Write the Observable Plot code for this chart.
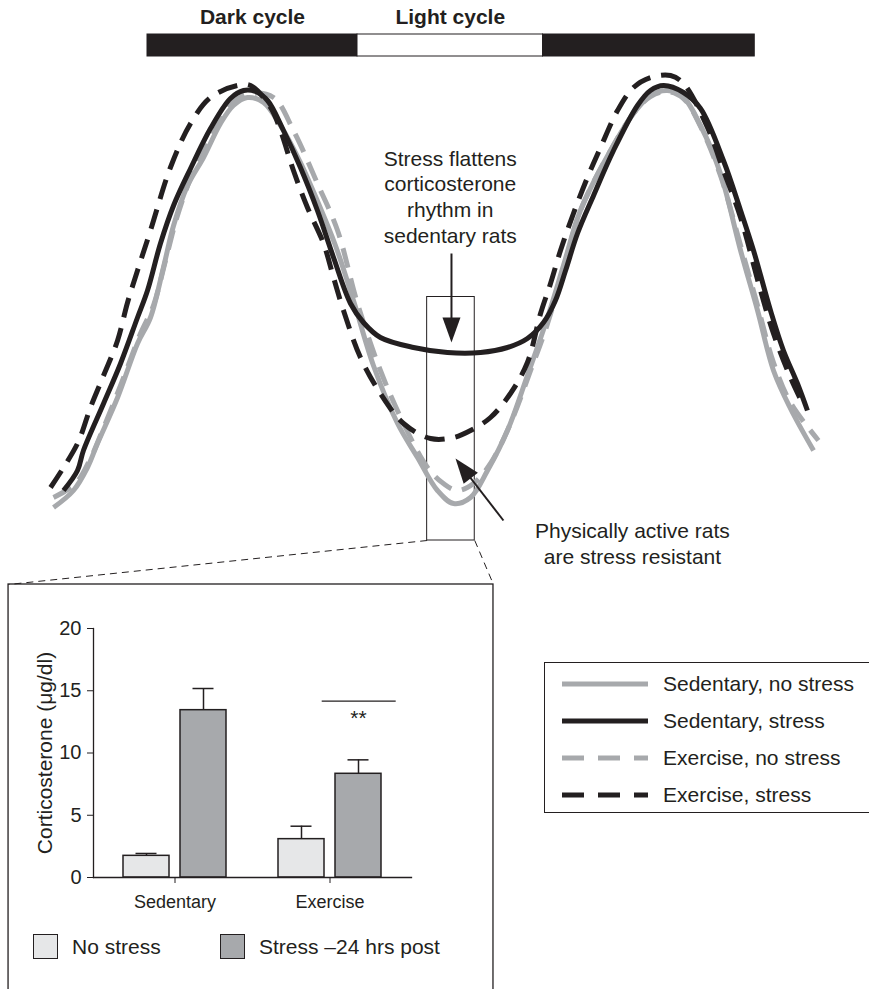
<!DOCTYPE html>
<html>
<head>
<meta charset="utf-8">
<script src="https://cdn.jsdelivr.net/npm/d3@7"></script>
<script src="https://cdn.jsdelivr.net/npm/@observablehq/plot@0.6"></script>
<style>
  html, body { margin: 0; padding: 0; background: #fff; }
  body { width: 869px; height: 989px; position: relative; overflow: hidden;
         font-family: "Liberation Sans", Arial, Helvetica, sans-serif; color: #231f20; }
  .abs { position: absolute; }
  .sw { position: absolute; width: 25px; height: 25px; box-sizing: border-box; border: 1.4px solid #231f20; }
  .lg { position: absolute; font-size: 21px; line-height: 24px; white-space: nowrap; }
</style>
</head>
<body>
<div id="top" class="abs" style="left:0;top:0;width:869px;height:989px"></div>
<div id="inset" class="abs" style="left:0;top:584px;width:494px;height:405px"></div>
<div id="insetLegend"></div>
<div id="lineLegend" class="abs" style="left:544px;top:662px;width:340px;height:151px;box-sizing:border-box;border:1.3px solid #231f20"></div>
<script>
// ---------------- colours / fonts ----------------
const BLACK = "#231f20", GRAY = "#a7a9ac", LIGHT = "#e6e7e8";
const FONT = '"Liberation Sans", Arial, Helvetica, sans-serif';

// ---------------- circadian curves: [hours from dark onset, relative corticosterone] ----------------
const sedNoStress = [
  [-5.37,6.6],[-4.23,10],[-3.43,14.6],[-2.86,19.4],[-1.71,28.6],[-0.57,39.4],[0.17,44.6],[0.91,54.6],
  [1.49,63],[2.29,71],[3.2,76.6],[4.17,83.4],[4.91,87],[5.71,88.6],[6.63,87.6],[7.6,83],[8.74,75.6],
  [9.77,67.4],[10.74,59],[11.77,48],[12.91,35],[14.29,23.4],[15.43,16.6],[16.57,10],[17.49,7.4],
  [18.46,8.6],[19.43,14],[20.57,22],[21.71,33],[22.86,44.6],[23.77,55],[24.74,66],[26.46,78],
  [27.77,85.4],[28.74,89],[29.71,90],[30.63,88.6],[31.6,83],[32.74,73.4],[33.89,58],[34.86,46],
  [35.77,34],[36.74,26.4],[38.06,18]
];
const exNoStress = [
  [-5.37,8.6],[-4.11,11.4],[-3.26,16.4],[-2.69,21],[-1.54,31],[-0.4,41.4],[0.34,47],[1.03,56],
  [1.66,64.4],[2.46,72.4],[3.31,78.4],[4.29,84.6],[5.03,88],[5.89,89.4],[7.2,88.6],[8.34,82],
  [9.71,71.4],[10.86,62],[12,47.4],[13.31,34],[14.63,23.4],[16,14.6],[16.91,11.4],[17.71,10],
  [18.63,11.4],[19.6,15.4],[20.74,23.4],[21.89,34],[22.86,43.4],[23.77,54.4],[24.74,66],[26.46,78],
  [27.77,85.4],[28.74,88.8],[29.71,89.8],[30.63,88.4],[31.6,82.8],[32.74,73],[33.89,59],[34.86,47],
  [35.77,35.6],[36.74,27.6],[38.34,20]
];
const sedStress = [
  [-4.8,10],[-4,14],[-3.66,18],[-2.51,27.4],[-1.54,35.4],[-0.57,44.6],[0,50],[0.74,59.4],[1.49,67],
  [2.46,74.4],[3.6,82.4],[4.74,88.4],[5.49,90],[6.17,89.8],[6.86,88],[7.77,82],[8.74,74.6],[9.71,66],
  [10.63,56.6],[11.6,47.4],[12.34,43.6],[13.31,40.6],[15.2,38.6],[17.14,37.6],[19.03,37.6],[20.57,38.6],
  [21.71,40.4],[22.63,43.6],[23.31,48],[23.89,54],[24.57,61.4],[25.49,69],[26.63,78],
  [28,87],[28.74,90],[29.49,91],[30.63,89.6],[31.6,86.4],[32.91,76],[33.89,66],[34.63,58],[35.6,46],
  [36.34,38],[37.14,31.4],[37.71,26]
];
const exStress = [
  [-5.54,10.6],[-4,19.4],[-3.26,26.6],[-2.51,33],[-1.71,40],[-1.14,47.6],[-0.57,54],[0.17,62],
  [1.31,74.6],[2.46,83.4],[3.6,88.6],[5.14,91],[5.89,91],[7.03,86.6],[7.6,82],[8.34,74],[9.14,66.6],
  [10.06,59.4],[10.63,52.6],[11.2,46],[12.17,36.6],[13.31,29.4],[14.63,23.4],[16.17,20.4],[17.49,20.6],
  [18.46,22],[19.6,24.6],[20.74,29.4],[21.71,35.6],[22.46,45.4],[23.03,51.4],[23.6,58],[24.34,65.4],
  [25.14,72.6],[25.89,78.6],[26.86,86],[27.77,90.6],[28.74,92.6],[29.89,93],[30.63,91.4],[32,82.6],
  [32.91,74],[33.89,64.6],[35.03,50],[35.77,41.4],[36.74,32.6],[37.49,27]
];
const seriesNames  = ["Sedentary, no stress", "Sedentary, stress", "Exercise, no stress", "Exercise, stress"];
const seriesColors = [GRAY, BLACK, GRAY, BLACK];
const seriesDashed = [false, false, true, true];

// light/dark cycle bar
const cyclePhases = ["Dark", "Light", "Dark"];
const cycleStarts = [0, 12, 22.6];
const cycleEnds   = [12, 22.6, 34.7];
const cycleLabels = ["Dark cycle", "Light cycle", ""];

// annotations (data units)
const annoFlatten = {t: 17.3, v: 68.9, text: "Stress flattens\ncorticosterone\nrhythm in\nsedentary rats"};
const annoResist  = {t: 27.71, v: -0.5, text: "Physically active rats\nare stress resistant"};
const arrowList   = [{t1: 17.37, v1: 57.4, t2: 17.37, v2: 39.6}, {t1: 20.34, v1: 4, t2: 17.6, v2: 16.4}];
const zoomWindow  = {t1: 15.98, t2: 18.7, v1: 0, v2: 48.7};
const insetFrame  = {t1: -7.94, t2: 19.77, v: -8.8};

// ---------------- inset bar chart ----------------
const groups = ["Sedentary", "Exercise"];
const conditions = ["No stress", "Stress \u201324 hrs post"];
const noStressMeans  = [1.74, 3.08];
const noStressErrors = [0.19, 1.04];
const stressMeans    = [13.44, 8.33];
const stressErrors   = [1.74, 1.12];
const yTicks = [0, 5, 10, 15, 20];
const sigGroup = "Exercise", sigLevel = 14.16, sigLabel = "**";

// ---------------- layout (pixels) ----------------
const W = 869, H = 989;
const PX_PER_H = 17.5, PX_PER_L = 5, ORIGIN_X = 147, ORIGIN_Y = 540;
const xDomain = [-ORIGIN_X / PX_PER_H, (W - ORIGIN_X) / PX_PER_H];
const yDomain = [(ORIGIN_Y - H) / PX_PER_L, ORIGIN_Y / PX_PER_L];

// ---------------- top panel ----------------
const curveSets = [sedNoStress, exNoStress, sedStress, exStress];
const curveOrder = [0, 2, 1, 3]; // index into seriesNames
const curveMarks = curveSets.map((arr, k) => {
  const s = curveOrder[k];
  return Plot.line(arr.map(([t, v]) => ({t, v, series: seriesNames[s]})), {
    x: "t", y: "v", stroke: seriesColors[s], strokeWidth: 5, curve: "catmull-rom",
    strokeDasharray: seriesDashed[s] ? "20,11" : null, strokeLinecap: "butt", strokeLinejoin: "round"
  });
});

const cycleRows = cyclePhases.map((p, i) => ({phase: p, start: cycleStarts[i], end: cycleEnds[i], label: cycleLabels[i]}));

function pxDelta(a) { return {dx: (a.t2 - a.t1) * PX_PER_H, dy: -(a.v2 - a.v1) * PX_PER_L}; }
function shaftEnd(a, back) {
  const {dx, dy} = pxDelta(a); const f = 1 - back / Math.hypot(dx, dy);
  return {...a, te: a.t1 + (a.t2 - a.t1) * f, ve: a.v1 + (a.v2 - a.v1) * f};
}
function headRotation(a) { const {dx, dy} = pxDelta(a); return Math.atan2(-dx, dy) * 180 / Math.PI; }
const arrowHead = {draw(ctx) { ctx.moveTo(0, 0); ctx.lineTo(-9, -25); ctx.lineTo(9, -25); ctx.closePath(); }};

const topPlot = Plot.plot({
  width: W, height: H, margin: 0,
  x: {domain: xDomain, axis: null},
  y: {domain: yDomain, axis: null},
  style: {fontFamily: FONT, background: "transparent", color: BLACK, overflow: "visible"},
  marks: [
    // light/dark bar
    Plot.rect(cycleRows, {x1: "start", x2: "end", y1: 96.8, y2: 101.2,
      fill: d => d.phase === "Dark" ? BLACK : "white", stroke: BLACK, strokeWidth: 1}),
    Plot.text(cycleRows.filter(d => d.label), {x: d => (d.start + d.end) / 2, y: 104.6, text: "label",
      fontSize: 21, fontWeight: "bold", fill: BLACK}),
    // zoom window, connectors, inset frame
    Plot.rect([zoomWindow], {x1: "t1", x2: "t2", y1: "v1", y2: "v2", fill: "none", stroke: BLACK, strokeWidth: 1}),
    Plot.link([
      {x1: zoomWindow.t1, y1: zoomWindow.v1, x2: insetFrame.t1, y2: insetFrame.v},
      {x1: zoomWindow.t2, y1: zoomWindow.v1, x2: insetFrame.t2, y2: insetFrame.v}
    ], {x1: "x1", y1: "y1", x2: "x2", y2: "y2", stroke: BLACK, strokeWidth: 1, strokeDasharray: "7,5"}),
    Plot.rect([insetFrame], {x1: "t1", x2: "t2", y1: "v", y2: d => d.v - 100, fill: "none", stroke: BLACK, strokeWidth: 1.3}),
    // curves
    ...curveMarks,
    // arrows
    Plot.link(arrowList.map(a => shaftEnd(a, 12)), {x1: "t1", y1: "v1", x2: "te", y2: "ve", stroke: BLACK, strokeWidth: 2}),
    Plot.dot(arrowList, {x: "t2", y: "v2", symbol: arrowHead, rotate: headRotation, fill: BLACK, stroke: "none"}),
    // annotation text
    Plot.text([annoFlatten, annoResist], {x: "t", y: "v", text: "text", fontSize: 21, lineHeight: 1.22,
      textAnchor: "middle", lineAnchor: "middle", fill: BLACK})
  ]
});
document.getElementById("top").append(topPlot);

// ---------------- inset plot ----------------
const BAR_W = 46, BAR_GAP = 11, CAP_HALF = 10.5;
const OFF = (BAR_W + BAR_GAP) / 2;
const noRows = groups.map((g, i) => ({group: g, mean: noStressMeans[i], err: noStressErrors[i]}));
const stRows = groups.map((g, i) => ({group: g, mean: stressMeans[i], err: stressErrors[i]}));
const sigRows = [{group: sigGroup, y: sigLevel, label: sigLabel}];
const BAND = 2 * BAR_W + BAR_GAP;
const capInsetNear = BAR_W / 2 - CAP_HALF, capInsetFar = BAND - BAR_W / 2 - CAP_HALF;

const insetPlot = Plot.plot({
  width: 494, height: 405,
  marginLeft: 93, marginRight: 83, marginTop: 44, marginBottom: 112,
  x: {domain: groups, paddingInner: 0.3376, paddingOuter: 0.191},
  y: {domain: [0, 20]},
  style: {fontFamily: FONT, background: "transparent", color: BLACK, overflow: "visible"},
  marks: [
    Plot.ruleX(noRows, {x: "group", dx: -OFF, y1: "mean", y2: d => d.mean + d.err, stroke: BLACK, strokeWidth: 1.5}),
    Plot.ruleX(stRows, {x: "group", dx: OFF, y1: "mean", y2: d => d.mean + d.err, stroke: BLACK, strokeWidth: 1.5}),
    Plot.tickY(noRows, {x: "group", y: d => d.mean + d.err, insetLeft: capInsetNear, insetRight: capInsetFar, stroke: BLACK, strokeWidth: 1.5}),
    Plot.tickY(stRows, {x: "group", y: d => d.mean + d.err, insetLeft: capInsetFar, insetRight: capInsetNear, stroke: BLACK, strokeWidth: 1.5}),
    Plot.barY(noRows, {x: "group", y: "mean", fill: LIGHT, stroke: BLACK, strokeWidth: 1.5, insetRight: BAR_W + BAR_GAP}),
    Plot.barY(stRows, {x: "group", y: "mean", fill: GRAY, stroke: BLACK, strokeWidth: 1.5, insetLeft: BAR_W + BAR_GAP}),
    Plot.tickY(sigRows, {x: "group", y: "y", insetLeft: 43.7, insetRight: -14.7, stroke: BLACK, strokeWidth: 1.3}),
    Plot.text(sigRows, {x: "group", y: "y", dx: OFF, dy: 17, text: "label", fontSize: 21, fill: BLACK}),
    Plot.frame({anchor: "left", stroke: BLACK, strokeWidth: 1.3}),
    Plot.frame({anchor: "bottom", stroke: BLACK, strokeWidth: 1.3}),
    Plot.axisY({ticks: yTicks, tickSize: 6, tickPadding: 6, fontSize: 20, label: null, stroke: BLACK, fill: BLACK}),
    Plot.axisX({tickSize: 6, tickPadding: 12, fontSize: 18, label: null, stroke: BLACK, fill: BLACK}),
    Plot.text(["Corticosterone (\u03bcg/dl)"], {frameAnchor: "left", dx: -48, rotate: -90, fontSize: 21,
      textAnchor: "middle", lineAnchor: "middle", fill: BLACK})
  ]
});
document.getElementById("inset").append(insetPlot);

// ---------------- inset legend (HTML) ----------------
const insetLegend = document.getElementById("insetLegend");
const swatchFills = [LIGHT, GRAY];
const swatchLeft = [33, 220];
conditions.forEach((c, i) => {
  const sw = document.createElement("div");
  sw.className = "sw"; sw.style.left = swatchLeft[i] + "px"; sw.style.top = "934px"; sw.style.background = swatchFills[i];
  const tx = document.createElement("div");
  tx.className = "lg"; tx.style.left = (swatchLeft[i] + 39) + "px"; tx.style.top = "935px"; tx.textContent = c;
  insetLegend.append(sw, tx);
});

// ---------------- line legend (HTML + inline svg swatches) ----------------
const lineLegend = document.getElementById("lineLegend");
const NS = "http://www.w3.org/2000/svg";
seriesNames.forEach((name, i) => {
  const cy = 21 + 37 * i;
  const svg = document.createElementNS(NS, "svg");
  svg.setAttribute("width", 90); svg.setAttribute("height", 10);
  svg.style.position = "absolute"; svg.style.left = "17px"; svg.style.top = (cy - 5) + "px";
  const ln = document.createElementNS(NS, "line");
  ln.setAttribute("x1", 0); ln.setAttribute("x2", 86); ln.setAttribute("y1", 5); ln.setAttribute("y2", 5);
  ln.setAttribute("stroke", seriesColors[i]); ln.setAttribute("stroke-width", 5);
  if (seriesDashed[i]) ln.setAttribute("stroke-dasharray", "22,14");
  svg.append(ln);
  const tx = document.createElement("div");
  tx.className = "lg"; tx.style.left = "118px"; tx.style.top = (cy - 12) + "px"; tx.textContent = name;
  lineLegend.append(svg, tx);
});
</script>
</body>
</html>
